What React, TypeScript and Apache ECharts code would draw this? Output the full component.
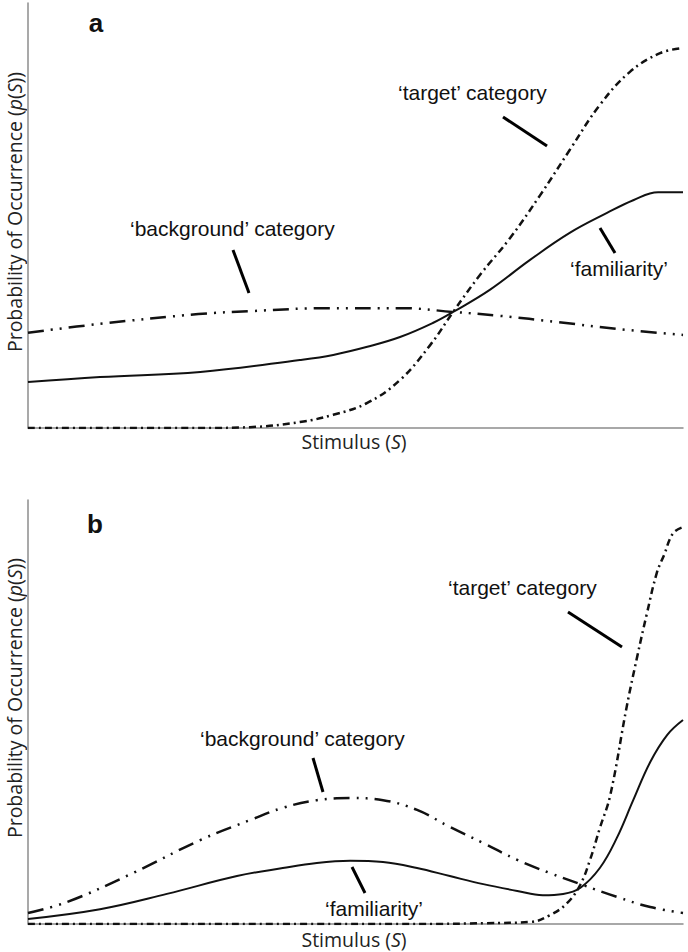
import React, { useEffect, useRef } from "react";
import * as echarts from "echarts";

// Panel a (x: stimulus 0..100, y: probability 0..100)
const aBgX = [0, 11, 26, 34, 46, 57, 65, 72, 81, 90, 100];
const aBgY = [22.4, 24.5, 26.8, 27.5, 28.2, 28.2, 27.3, 26.4, 24.9, 23.3, 21.9];
const aFamX = [0, 11, 26.3, 41.5, 46.6, 51.8, 56.8, 61.8, 64.9, 70.5, 76.6, 82.7, 88.4, 92.4, 96.2, 100];
const aFamY = [10.8, 12.0, 13.2, 16.0, 17.2, 19.1, 21.4, 24.7, 27.3, 32.5, 39.5, 45.9, 50.6, 53.6, 55.5, 55.5];
const aTgtX = [0, 26.3, 33.9, 41.5, 46.6, 51.8, 56.8, 61.4, 64.9, 69.0, 73.6, 78.2, 82.7, 87.3, 91.9, 96.5, 100];
const aTgtY = [0, 0, 0.2, 1.4, 3.1, 5.9, 11.3, 19.5, 27.3, 36.0, 44.7, 54.8, 65.4, 76.0, 83.8, 88.2, 89.4];

// Panel b
const bBgX = [0, 6, 16, 26.3, 33.9, 38.9, 44.1, 49.2, 54.2, 59.4, 64.4, 69.5, 74.7, 79.7, 84.7, 89.9, 95, 100];
const bBgY = [2.6, 5.2, 12.0, 19.8, 24.5, 27.4, 29.2, 29.7, 29.2, 26.9, 22.9, 19.1, 15.1, 12.0, 9.2, 6.4, 4.0, 2.6];
const bFamX = [0, 11, 21.2, 31.9, 38.9, 44.1, 49.2, 54.2, 59.4, 64.4, 69.5, 74.7, 78.6, 81.7, 84.3, 87.3, 89.9, 92.4, 95.0, 97.6, 100];
const bFamY = [1.2, 3.5, 7.1, 11.3, 13.2, 14.4, 14.9, 14.6, 13.2, 11.3, 9.4, 7.8, 6.8, 7.1, 8.5, 13.2, 20.3, 29.2, 38.2, 44.6, 48.1];
const bTgtX = [0, 60, 70, 76.8, 79.7, 82.3, 84.3, 85.8, 87.3, 88.9, 91.4, 93.0, 94.5, 96.0, 97.1, 98.5, 100];
const bTgtY = [0, 0, 0.2, 0.5, 2.1, 4.9, 9.2, 15.1, 22.6, 30.4, 51.2, 63.0, 73.3, 82.8, 87.0, 92.2, 93.6];

const yTitle = "Probability of Occurrence";
const xTitle = "Stimulus";
const panelLabels = ["a", "b"];
const annTarget = "\u2018target\u2019 category";
const annBackground = "\u2018background\u2019 category";
const annFamiliarity = "\u2018familiarity\u2019";

const pairs = (xs: number[], ys: number[]) => xs.map((x, i) => [x, ys[i]]);

export default function App() {
  const ref = useRef<HTMLDivElement>(null);
  useEffect(() => {
    if (!ref.current) return;
    const chart = echarts.init(ref.current, undefined, { renderer: "svg" });
    const axisColor = "#8c8c8c";
    const bgDash = [16, 7, 2, 7, 2, 7];
    const tgtDash = [7, 4, 2, 4];
    const mkLine = (name: string, xi: number, data: number[][], type: any, width: number) => ({
      name,
      type: "line",
      xAxisIndex: xi,
      yAxisIndex: xi,
      data,
      showSymbol: false,
      smooth: 0.4,
      lineStyle: { color: "#111", width, type },
      z: 3,
    });
    const ax = (gi: number) => ({
      type: "value",
      gridIndex: gi,
      min: 0,
      max: 100,
      axisLine: { show: true, lineStyle: { color: axisColor, width: 1.5 } },
      axisTick: { show: false },
      axisLabel: { show: false },
      splitLine: { show: false },
    });
    const annFont = { fontFamily: "Liberation Sans, Arial, sans-serif", fontSize: 21, fill: "#111" };
    const ann = (text: string, x: number, y: number) => ({
      type: "text",
      x,
      y,
      style: { ...annFont, text, textAlign: "left", textVerticalAlign: "middle", verticalAlign: "middle" },
    });
    const ptr = (x1: number, y1: number, x2: number, y2: number) => ({
      type: "line",
      shape: { x1, y1, x2, y2 },
      style: { stroke: "#000", lineWidth: 3 },
    });
    const titleRich = {
      n: { fontFamily: "Open Sans, sans-serif", fontSize: 19.5, fill: "#222", color: "#222" },
      i: { fontFamily: "Open Sans, sans-serif", fontSize: 19.5, fontStyle: "italic", fill: "#222", color: "#222" },
    };
    const yT = (cy: number) => ({
      type: "text",
      x: 14,
      y: cy,
      rotation: Math.PI / 2,
      style: {
        text: `{n|${yTitle} (}{i|p}{n|(}{i|S}{n|))}`,
        rich: titleRich,
        textAlign: "center",
        verticalAlign: "middle",
        textVerticalAlign: "middle",
      },
    });
    const xT = (cy: number) => ({
      type: "text",
      x: 354,
      y: cy,
      style: {
        text: `{n|${xTitle} (}{i|S}{n|)}`,
        rich: titleRich,
        textAlign: "center",
        verticalAlign: "middle",
        textVerticalAlign: "middle",
      },
    });
    const pl = (t: string, x: number, y: number) => ({
      type: "text",
      x,
      y,
      style: {
        text: t,
        fontFamily: "Liberation Sans, Arial, sans-serif",
        fontSize: 26,
        fontWeight: "bold",
        fill: "#111",
        textAlign: "center",
        verticalAlign: "middle",
        textVerticalAlign: "middle",
      },
    });
    chart.setOption({
      animation: false,
      backgroundColor: "#fff",
      grid: [
        { left: 28, top: 3, width: 655, height: 425 },
        { left: 28, top: 500, width: 655, height: 424 },
      ],
      xAxis: [ax(0), ax(1)],
      yAxis: [ax(0), ax(1)],
      series: [
        mkLine("a background", 0, pairs(aBgX, aBgY), bgDash, 2.5),
        mkLine("a familiarity", 0, pairs(aFamX, aFamY), "solid", 2),
        mkLine("a target", 0, pairs(aTgtX, aTgtY), tgtDash, 2.5),
        mkLine("b background", 1, pairs(bBgX, bBgY), bgDash, 2.5),
        mkLine("b familiarity", 1, pairs(bFamX, bFamY), "solid", 2),
        mkLine("b target", 1, pairs(bTgtX, bTgtY), tgtDash, 2.5),
      ],
      graphic: [
        pl(panelLabels[0], 96, 23),
        pl(panelLabels[1], 95, 524),
        yT(212),
        yT(698),
        xT(441),
        xT(939),
        ann(annTarget, 398, 92),
        ptr(503, 117, 547, 146),
        ann(annBackground, 130, 228),
        ptr(233, 250, 249, 293),
        ann(annFamiliarity, 570, 268),
        ptr(600, 228, 615, 253),
        ann(annTarget, 448, 587),
        ptr(568, 612, 622, 647),
        ann(annBackground, 200, 738),
        ptr(313, 758, 323, 792),
        ann(annFamiliarity, 325, 908),
        ptr(352, 867, 365, 893),
      ],
    });
    return () => chart.dispose();
  }, []);
  return (
    <div
      ref={ref}
      style={{ position: "absolute", left: 0, top: 0, width: 688, height: 952 }}
    />
  );
}
